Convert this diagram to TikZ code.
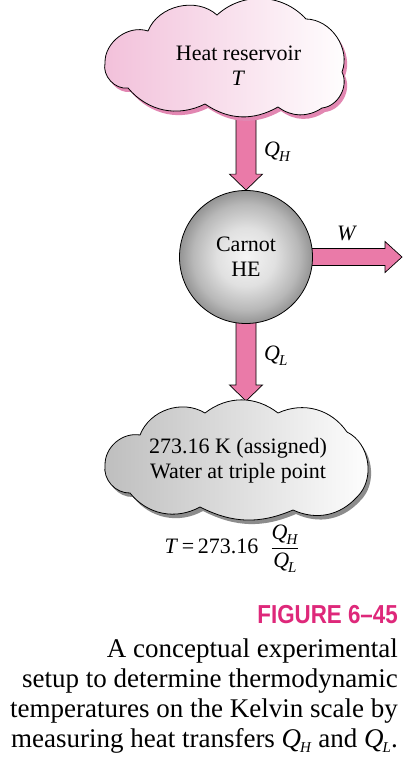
\documentclass[tikz,border=0pt]{standalone}
\usepackage{fontspec}
\setmainfont{Liberation Serif}
\newfontfamily\figfont[FakeStretch=0.86]{Liberation Sans}
\usetikzlibrary{calc}
\definecolor{arrowpink}{RGB}{234,122,168}
\definecolor{cloudpink}{RGB}{242,192,218}
\definecolor{shadowpink}{RGB}{226,135,178}
\definecolor{cloudgray}{RGB}{190,190,190}
\definecolor{shadowgray}{RGB}{140,140,140}
\definecolor{figpink}{RGB}{222,40,122}
\pgfdeclarelayer{back}
\pgfdeclarelayer{bg}
\pgfsetlayers{back,bg,main}
\pgfdeclareradialshading{ballshade}{\pgfpointorigin}{%
  color(0bp)=(black!4); color(11bp)=(black!12); color(20bp)=(black!28);
  color(25bp)=(black!42); color(50bp)=(black!42)}
\newcommand\QQ[1]{\textit{Q}\raisebox{-5bp}{\fontsize{15bp}{15bp}\selectfont\kern-1bp\textit{#1}}}
\newcommand\TopCloudPath{(105,63) to[bend left=55] (148,31) to[bend left=55] (217,15)
  to[bend left=45] (306,19) to[bend left=55] (342,72) to[bend left=55] (322,108)
  to[bend left=35] (278,107) to[bend left=32] (205,104) to[bend left=38] (128,88)
  to[bend left=55] (105,63) -- cycle}
\newcommand\BotCloudPath{(105,465) to[bend left=50] (140,435) to[bend left=50] (205,413)
  to[bend left=38] (278,413) to[bend left=40] (347,432) to[bend left=55] (357,497)
  to[bend left=36] (293,510) to[bend left=25] (200,507) to[bend left=40] (130,493)
  to[bend left=50] (105,465) -- cycle}
\tikzset{
  fat shaft/.store in=\fatshaft, fat head/.store in=\fathead, fat len/.store in=\fatlen,
  fat shaft=10, fat head=16.5, fat len=16,
  fatarrow/.style={draw=black, line width=0.7bp, fill=arrowpink, line join=miter,
    to path={let \p1=(\tikztostart), \p2=(\tikztotarget), \p3=($(\p2)!\fatlen bp!(\p1)$) in
      ($(\p1)!\fatshaft bp!90:(\p2)$) -- ($(\p3)!\fatshaft bp!-90:(\p1)$)
      -- ($(\p3)!\fathead bp!-90:(\p1)$) -- (\p2) -- ($(\p3)!\fathead bp!90:(\p1)$)
      -- ($(\p3)!\fatshaft bp!90:(\p1)$) -- ($(\p1)!\fatshaft bp!-90:(\p2)$) -- cycle}},
  cloudline/.style={draw=black, line width=0.8bp},
  txt/.style={font=\fontsize{22bp}{25bp}\selectfont, inner sep=0pt},
  captxt/.style={font=\fontsize{27bp}{30bp}\selectfont, inner sep=0pt, anchor=base east}
}
\begin{document}
\begin{tikzpicture}[x=1bp,y=-1bp]
\begin{pgfonlayer}{back}
\fill[white] (0,0) rectangle (403,760);
\end{pgfonlayer}
\useasboundingbox (0,0) rectangle (403,760);
% clouds
\fill[shadowpink, shift={(3,4)}] \TopCloudPath;
\path[cloudline, left color=cloudpink, right color=white] \TopCloudPath;
\fill[shadowgray, shift={(3,4)}] \BotCloudPath;
\path[cloudline, left color=cloudgray, right color=white] \BotCloudPath;
% engine
\node[txt, circle, draw=black, line width=0.8bp, minimum size=133bp,
  shading=ballshade, align=center] (he) at (246,257) {Carnot\\HE};
% cloud texts
\node[txt, align=center] (res) at (238.5,66) {Heat reservoir\\\textit{T}};
\node[txt, align=center] (wat) at (238,461) {273.16 K (assigned)\\Water at triple point};
% arrow ends
\coordinate (qhs) at (he.center |- res.center);
\coordinate (qlt) at (246,401);
\coordinate (wt) at (402,257);
\begin{pgfonlayer}{bg}
\draw[fatarrow] (qhs) to (he.north);
\draw[fatarrow] (he.center) to (qlt);
\draw[fatarrow, fat shaft=8.5, fat head=15.5, fat len=17] (he.center) to (wt);
\end{pgfonlayer}
% labels
\node[txt, anchor=west] (qh) at (264,152) {\QQ{H}};
\node[txt] (w) at (347,233) {\textit{W}};
\node[txt, anchor=west] (ql) at (264,356) {\QQ{L}};
\node[txt, anchor=base] (eq) at (232,553)
  {\textit{T}\,=\,273.16\hspace{12bp}$\displaystyle\frac{\hbox{\QQ{H}}}{\hbox{\QQ{L}}}$};
% caption
\node[inner sep=0pt, anchor=base east, text=figpink,
  font=\figfont\bfseries\fontsize{26bp}{26bp}\selectfont] (fig) at (398,623) {FIGURE 6–45};
\node[captxt] (c1) at (398,657) {A conceptual experimental};
\node[captxt] (c2) at (398,687) {setup to determine thermodynamic};
\node[captxt] (c3) at (398,717) {temperatures on the Kelvin scale by};
\node[captxt] (c4) at (398,747) {measuring heat transfers \QQ{H} and \QQ{L}.};
\end{tikzpicture}
\end{document}
